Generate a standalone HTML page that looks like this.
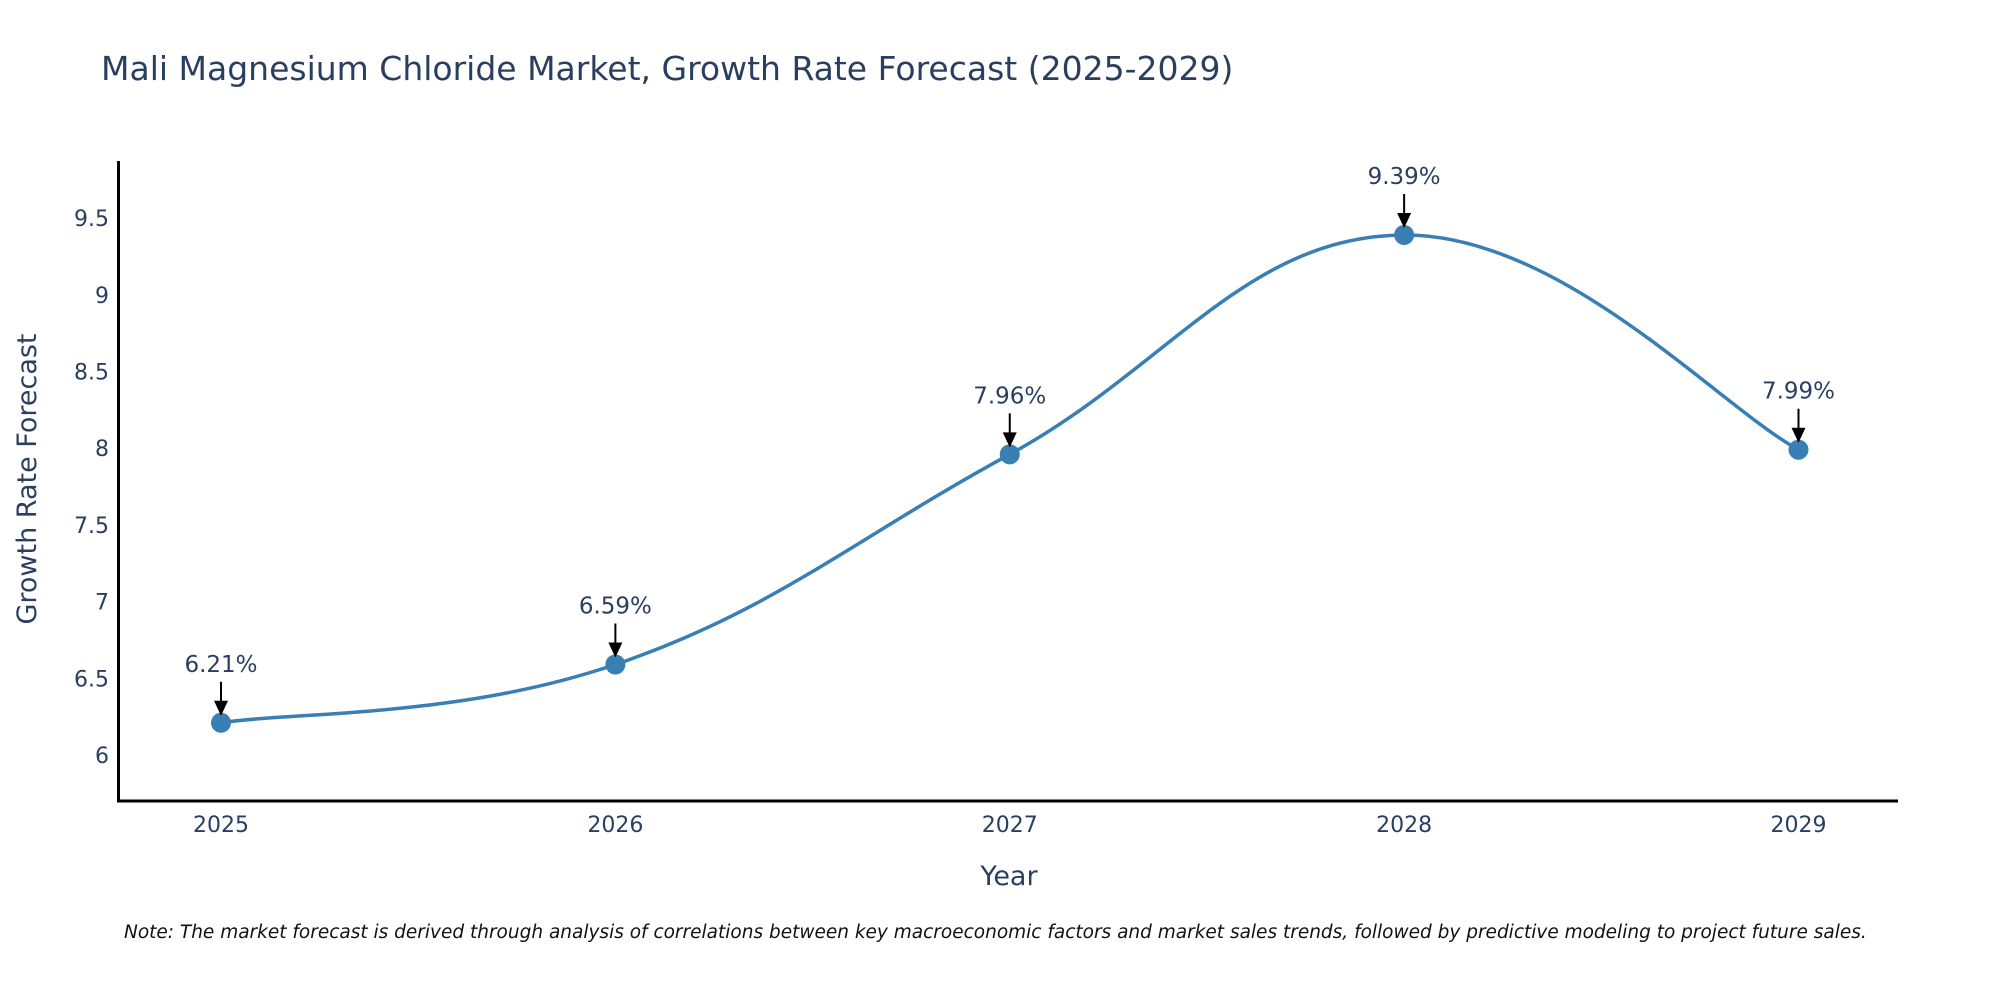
<!DOCTYPE html>
<html><head><meta charset="utf-8"><style>
body{margin:0;background:#fff;overflow:hidden}
svg text{font-family:"DejaVu Sans","Liberation Sans",sans-serif;fill:#2a3f5f}
</style></head><body>
<svg id="chart" width="2000" height="1000" viewBox="0 0 2000 1000" xmlns="http://www.w3.org/2000/svg">
<text x="101" y="80" font-size="33">Mali Magnesium Chloride Market, Growth Rate Forecast (2025-2029)</text>
<g id="yticks"></g>
<g id="xticks"></g>
<line x1="118.5" y1="161" x2="118.5" y2="802" stroke="#000" stroke-width="3"/>
<line x1="117" y1="801" x2="1898" y2="801" stroke="#000" stroke-width="3"/>
<path id="line" fill="none" stroke="#3a7fb4" stroke-width="3.5"/>
<g id="marks"></g>
<text x="1009" y="885" font-size="27" text-anchor="middle">Year</text>
<text transform="translate(36,479) rotate(-90)" font-size="27" text-anchor="middle">Growth Rate Forecast</text>
<text x="124" y="938" font-size="18.5" font-style="italic" style="fill:#111">Note: The market forecast is derived through analysis of correlations between key macroeconomic factors and market sales trends, followed by predictive modeling to project future sales.</text>
</svg>
<script>
const years=[2025,2026,2027,2028,2029];
const values=[6.21,6.59,7.96,9.39,7.99];
const yTickVals=[6,6.5,7,7.5,8,8.5,9,9.5];
const yTickLabels=["6","6.5","7","7.5","8","8.5","9","9.5"];
const NS="http://www.w3.org/2000/svg";
const xS=v=>221+(v-2025)*(1798.5-221)/4;
const yS=v=>755-(v-6)*153.4;
function mk(t,a,p){const e=document.createElementNS(NS,t);for(const k in a)e.setAttribute(k,a[k]);p.appendChild(e);return e;}
const yt=document.getElementById('yticks');
yTickVals.forEach((v,i)=>{const e=mk('text',{x:109,y:yS(v)+8,'font-size':22,'text-anchor':'end'},yt);


e.textContent=yTickLabels[i];});
const xt=document.getElementById('xticks');
years.forEach(y=>{const e=mk('text',{x:xS(y),y:832,'font-size':22,'text-anchor':'middle'},xt);


e.textContent=String(y);});
const P=years.map((y,i)=>[xS(y),yS(values[i])]);
let d='M'+P[0][0]+','+P[0][1];
for(let i=0;i<P.length-1;i++){const p0=P[Math.max(0,i-1)],p1=P[i],p2=P[i+1],p3=P[Math.min(P.length-1,i+2)];
const s=0.2;
d+=' C'+(p1[0]+(p2[0]-p0[0])*s)+','+(p1[1]+(p2[1]-p0[1])*s)+' '+(p2[0]-(p3[0]-p1[0])*s)+','+(p2[1]-(p3[1]-p1[1])*s)+' '+p2[0]+','+p2[1];}
document.getElementById('line').setAttribute('d',d);
const g=document.getElementById('marks');
P.forEach((p,i)=>{
const c=mk('circle',{cx:p[0],cy:p[1],r:10,fill:'#3a7fb4'},g);


const l=mk('line',{x1:p[0],y1:p[1]-41,x2:p[0],y2:p[1]-20,stroke:'#000','stroke-width':2},g);


const h=mk('polygon',{points:(p[0]-7)+','+(p[1]-22)+' '+(p[0]+7)+','+(p[1]-22)+' '+p[0]+','+(p[1]-7),fill:'#000'},g);


const t=mk('text',{x:p[0],y:p[1]-51,'font-size':23,'text-anchor':'middle'},g);


t.textContent=values[i].toFixed(2)+'%';});
</script>
</body></html>
